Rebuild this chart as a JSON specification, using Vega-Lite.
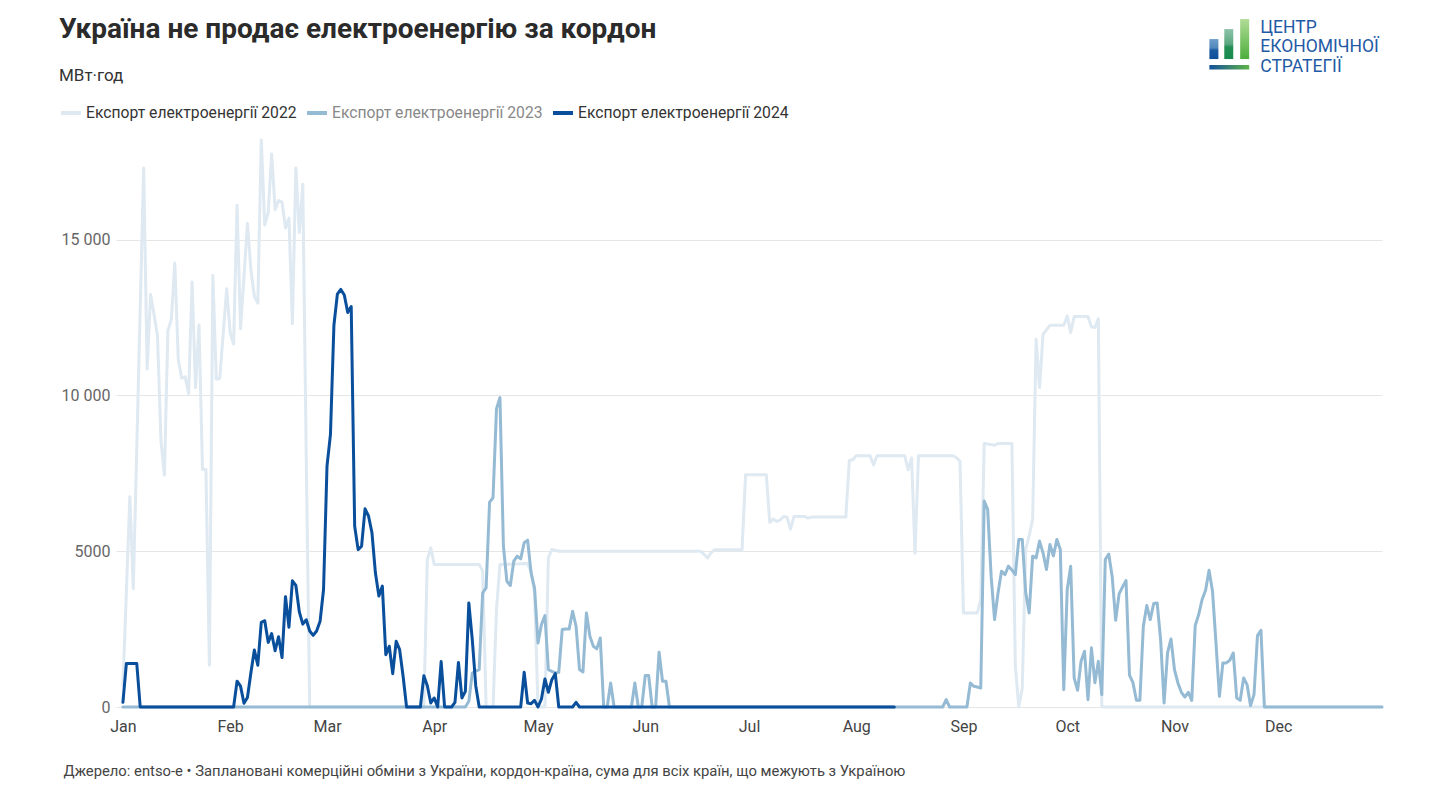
{
"$schema": "https://vega.github.io/schema/vega-lite/v6.json",
"width": 1266,
"height": 564,
"autosize": {"type": "none"},
"padding": {"left": 116, "top": 143, "right": 61, "bottom": 90},
"background": "white",
"config": {"font": "Roboto", "view": {"stroke": null}},
"title": {"text": "Україна не продає електроенергію за кордон", "subtitle": "МВт·год", "anchor": "start", "frame": "bounds", "fontSize": 28, "fontWeight": "bold", "color": "#2b2b2b", "subtitleFontSize": 17, "subtitleColor": "#333333", "subtitlePadding": 24, "offset": -65, "font": "Roboto", "subtitleFont": "Roboto"},
"layer": [
{
"data": {"values": [
{"s":"2022","d":1,"v":700},{"s":"2022","d":2,"v":3700},{"s":"2022","d":3,"v":6750},{"s":"2022","d":4,"v":3800},{"s":"2022","d":5,"v":8300},{"s":"2022","d":6,"v":12800},{"s":"2022","d":7,"v":17300},{"s":"2022","d":8,"v":10850},{"s":"2022","d":9,"v":13240},{"s":"2022","d":10,"v":12600},{"s":"2022","d":11,"v":11900},{"s":"2022","d":12,"v":8540},{"s":"2022","d":13,"v":7440},{"s":"2022","d":14,"v":12080},{"s":"2022","d":15,"v":12440},{"s":"2022","d":16,"v":14250},{"s":"2022","d":17,"v":11160},{"s":"2022","d":18,"v":10550},{"s":"2022","d":19,"v":10600},{"s":"2022","d":20,"v":10065},{"s":"2022","d":21,"v":13640},{"s":"2022","d":22,"v":10250},{"s":"2022","d":23,"v":12260},{"s":"2022","d":24,"v":7625},{"s":"2022","d":25,"v":7625},{"s":"2022","d":26,"v":1340},{"s":"2022","d":27,"v":13850},{"s":"2022","d":28,"v":10520},{"s":"2022","d":29,"v":10550},{"s":"2022","d":30,"v":12000},{"s":"2022","d":31,"v":13420},{"s":"2022","d":32,"v":12020},{"s":"2022","d":33,"v":11650},{"s":"2022","d":34,"v":16100},{"s":"2022","d":35,"v":12140},{"s":"2022","d":36,"v":13800},{"s":"2022","d":37,"v":15520},{"s":"2022","d":38,"v":14030},{"s":"2022","d":39,"v":13180},{"s":"2022","d":40,"v":12960},{"s":"2022","d":41,"v":18200},{"s":"2022","d":42,"v":15470},{"s":"2022","d":43,"v":15860},{"s":"2022","d":44,"v":17750},{"s":"2022","d":45,"v":15960},{"s":"2022","d":46,"v":16250},{"s":"2022","d":47,"v":16200},{"s":"2022","d":48,"v":15370},{"s":"2022","d":49,"v":15690},{"s":"2022","d":50,"v":12300},{"s":"2022","d":51,"v":17300},{"s":"2022","d":52,"v":15230},{"s":"2022","d":53,"v":16780},{"s":"2022","d":54,"v":8000},{"s":"2022","d":55,"v":0},{"s":"2022","d":88,"v":0},{"s":"2022","d":89,"v":4734},{"s":"2022","d":90,"v":5108},{"s":"2022","d":91,"v":4573},{"s":"2022","d":104,"v":4573},{"s":"2022","d":105,"v":4359},{"s":"2022","d":106,"v":0},{"s":"2022","d":108,"v":0},{"s":"2022","d":109,"v":3127},{"s":"2022","d":110,"v":4573},{"s":"2022","d":118,"v":4605},{"s":"2022","d":119,"v":4327},{"s":"2022","d":120,"v":3663},{"s":"2022","d":121,"v":0},{"s":"2022","d":123,"v":0},{"s":"2022","d":124,"v":4787},{"s":"2022","d":125,"v":5055},{"s":"2022","d":127,"v":5000},{"s":"2022","d":168,"v":5000},{"s":"2022","d":169,"v":4900},{"s":"2022","d":170,"v":4780},{"s":"2022","d":171,"v":4950},{"s":"2022","d":172,"v":5044},{"s":"2022","d":180,"v":5044},{"s":"2022","d":181,"v":7454},{"s":"2022","d":187,"v":7454},{"s":"2022","d":188,"v":5923},{"s":"2022","d":189,"v":6030},{"s":"2022","d":190,"v":5955},{"s":"2022","d":191,"v":6000},{"s":"2022","d":192,"v":6115},{"s":"2022","d":193,"v":6094},{"s":"2022","d":194,"v":5708},{"s":"2022","d":195,"v":6115},{"s":"2022","d":198,"v":6115},{"s":"2022","d":199,"v":6062},{"s":"2022","d":200,"v":6094},{"s":"2022","d":210,"v":6094},{"s":"2022","d":211,"v":7915},{"s":"2022","d":212,"v":7936},{"s":"2022","d":213,"v":8065},{"s":"2022","d":217,"v":8065},{"s":"2022","d":218,"v":7775},{"s":"2022","d":219,"v":8065},{"s":"2022","d":227,"v":8065},{"s":"2022","d":228,"v":7615},{"s":"2022","d":229,"v":7990},{"s":"2022","d":230,"v":4937},{"s":"2022","d":231,"v":8065},{"s":"2022","d":241,"v":8065},{"s":"2022","d":242,"v":8000},{"s":"2022","d":243,"v":7890},{"s":"2022","d":244,"v":3020},{"s":"2022","d":248,"v":3020},{"s":"2022","d":249,"v":3450},{"s":"2022","d":250,"v":8460},{"s":"2022","d":253,"v":8400},{"s":"2022","d":254,"v":8460},{"s":"2022","d":258,"v":8460},{"s":"2022","d":259,"v":1300},{"s":"2022","d":260,"v":0},{"s":"2022","d":261,"v":610},{"s":"2022","d":262,"v":5055},{"s":"2022","d":263,"v":5500},{"s":"2022","d":264,"v":6020},{"s":"2022","d":265,"v":11800},{"s":"2022","d":266,"v":10250},{"s":"2022","d":267,"v":11963},{"s":"2022","d":268,"v":12100},{"s":"2022","d":269,"v":12250},{"s":"2022","d":273,"v":12250},{"s":"2022","d":274,"v":12550},{"s":"2022","d":275,"v":12017},{"s":"2022","d":276,"v":12530},{"s":"2022","d":280,"v":12530},{"s":"2022","d":281,"v":12200},{"s":"2022","d":282,"v":12180},{"s":"2022","d":283,"v":12460},{"s":"2022","d":284,"v":0},{"s":"2022","d":365,"v":0},
{"s":"2023","d":1,"v":0},{"s":"2023","d":100,"v":0},{"s":"2023","d":101,"v":182},{"s":"2023","d":102,"v":1092},{"s":"2023","d":103,"v":1150},{"s":"2023","d":104,"v":1200},{"s":"2023","d":105,"v":3660},{"s":"2023","d":106,"v":3820},{"s":"2023","d":107,"v":6575},{"s":"2023","d":108,"v":6715},{"s":"2023","d":109,"v":9575},{"s":"2023","d":110,"v":9928},{"s":"2023","d":111,"v":5160},{"s":"2023","d":112,"v":4037},{"s":"2023","d":113,"v":3900},{"s":"2023","d":114,"v":4680},{"s":"2023","d":115,"v":4840},{"s":"2023","d":116,"v":4755},{"s":"2023","d":117,"v":5270},{"s":"2023","d":118,"v":5355},{"s":"2023","d":119,"v":4305},{"s":"2023","d":120,"v":3820},{"s":"2023","d":121,"v":2056},{"s":"2023","d":122,"v":2645},{"s":"2023","d":123,"v":2935},{"s":"2023","d":124,"v":1200},{"s":"2023","d":125,"v":1146},{"s":"2023","d":126,"v":1092},{"s":"2023","d":127,"v":1114},{"s":"2023","d":128,"v":2485},{"s":"2023","d":129,"v":2506},{"s":"2023","d":130,"v":2500},{"s":"2023","d":131,"v":3074},{"s":"2023","d":132,"v":2592},{"s":"2023","d":133,"v":1200},{"s":"2023","d":134,"v":1125},{"s":"2023","d":135,"v":3020},{"s":"2023","d":136,"v":2270},{"s":"2023","d":137,"v":1950},{"s":"2023","d":138,"v":1864},{"s":"2023","d":139,"v":2217},{"s":"2023","d":140,"v":0},{"s":"2023","d":141,"v":0},{"s":"2023","d":142,"v":771},{"s":"2023","d":143,"v":0},{"s":"2023","d":148,"v":0},{"s":"2023","d":149,"v":771},{"s":"2023","d":150,"v":0},{"s":"2023","d":151,"v":0},{"s":"2023","d":152,"v":1007},{"s":"2023","d":153,"v":1007},{"s":"2023","d":154,"v":0},{"s":"2023","d":155,"v":0},{"s":"2023","d":156,"v":1756},{"s":"2023","d":157,"v":825},{"s":"2023","d":158,"v":825},{"s":"2023","d":159,"v":0},{"s":"2023","d":238,"v":0},{"s":"2023","d":239,"v":236},{"s":"2023","d":240,"v":0},{"s":"2023","d":245,"v":0},{"s":"2023","d":246,"v":771},{"s":"2023","d":247,"v":664},{"s":"2023","d":248,"v":640},{"s":"2023","d":249,"v":610},{"s":"2023","d":250,"v":6608},{"s":"2023","d":251,"v":6340},{"s":"2023","d":252,"v":4200},{"s":"2023","d":253,"v":2806},{"s":"2023","d":254,"v":3663},{"s":"2023","d":255,"v":4360},{"s":"2023","d":256,"v":4250},{"s":"2023","d":257,"v":4520},{"s":"2023","d":258,"v":4400},{"s":"2023","d":259,"v":4250},{"s":"2023","d":260,"v":5376},{"s":"2023","d":261,"v":5376},{"s":"2023","d":262,"v":3663},{"s":"2023","d":263,"v":3020},{"s":"2023","d":264,"v":4840},{"s":"2023","d":265,"v":4787},{"s":"2023","d":266,"v":5323},{"s":"2023","d":267,"v":4948},{"s":"2023","d":268,"v":4413},{"s":"2023","d":269,"v":5216},{"s":"2023","d":270,"v":4850},{"s":"2023","d":271,"v":5376},{"s":"2023","d":272,"v":5055},{"s":"2023","d":273,"v":557},{"s":"2023","d":274,"v":3770},{"s":"2023","d":275,"v":4520},{"s":"2023","d":276,"v":932},{"s":"2023","d":277,"v":535},{"s":"2023","d":278,"v":1467},{"s":"2023","d":279,"v":1789},{"s":"2023","d":280,"v":236},{"s":"2023","d":281,"v":1900},{"s":"2023","d":282,"v":780},{"s":"2023","d":283,"v":1467},{"s":"2023","d":284,"v":396},{"s":"2023","d":285,"v":4734},{"s":"2023","d":286,"v":4910},{"s":"2023","d":287,"v":4180},{"s":"2023","d":288,"v":2785},{"s":"2023","d":289,"v":3630},{"s":"2023","d":290,"v":3856},{"s":"2023","d":291,"v":4060},{"s":"2023","d":292,"v":1020},{"s":"2023","d":293,"v":780},{"s":"2023","d":294,"v":214},{"s":"2023","d":295,"v":214},{"s":"2023","d":296,"v":2592},{"s":"2023","d":297,"v":3256},{"s":"2023","d":298,"v":2806},{"s":"2023","d":299,"v":3320},{"s":"2023","d":300,"v":3341},{"s":"2023","d":301,"v":2163},{"s":"2023","d":302,"v":128},{"s":"2023","d":303,"v":1735},{"s":"2023","d":304,"v":2185},{"s":"2023","d":305,"v":1200},{"s":"2023","d":306,"v":771},{"s":"2023","d":307,"v":471},{"s":"2023","d":308,"v":321},{"s":"2023","d":309,"v":471},{"s":"2023","d":310,"v":214},{"s":"2023","d":311,"v":2613},{"s":"2023","d":312,"v":2967},{"s":"2023","d":313,"v":3449},{"s":"2023","d":314,"v":3749},{"s":"2023","d":315,"v":4391},{"s":"2023","d":316,"v":3716},{"s":"2023","d":317,"v":2056},{"s":"2023","d":318,"v":343},{"s":"2023","d":319,"v":1414},{"s":"2023","d":320,"v":1414},{"s":"2023","d":321,"v":1500},{"s":"2023","d":322,"v":1735},{"s":"2023","d":323,"v":289},{"s":"2023","d":324,"v":214},{"s":"2023","d":325,"v":932},{"s":"2023","d":326,"v":717},{"s":"2023","d":327,"v":43},{"s":"2023","d":328,"v":396},{"s":"2023","d":329,"v":2292},{"s":"2023","d":330,"v":2463},{"s":"2023","d":331,"v":0},{"s":"2023","d":365,"v":0},
{"s":"2024","d":1,"v":150},{"s":"2024","d":2,"v":1400},{"s":"2024","d":3,"v":1400},{"s":"2024","d":4,"v":1400},{"s":"2024","d":5,"v":1400},{"s":"2024","d":6,"v":0},{"s":"2024","d":33,"v":0},{"s":"2024","d":34,"v":830},{"s":"2024","d":35,"v":670},{"s":"2024","d":36,"v":120},{"s":"2024","d":37,"v":305},{"s":"2024","d":38,"v":1100},{"s":"2024","d":39,"v":1830},{"s":"2024","d":40,"v":1340},{"s":"2024","d":41,"v":2720},{"s":"2024","d":42,"v":2770},{"s":"2024","d":43,"v":2074},{"s":"2024","d":44,"v":2355},{"s":"2024","d":45,"v":1805},{"s":"2024","d":46,"v":2257},{"s":"2024","d":47,"v":1586},{"s":"2024","d":48,"v":3540},{"s":"2024","d":49,"v":2560},{"s":"2024","d":50,"v":4050},{"s":"2024","d":51,"v":3900},{"s":"2024","d":52,"v":3050},{"s":"2024","d":53,"v":2660},{"s":"2024","d":54,"v":2800},{"s":"2024","d":55,"v":2440},{"s":"2024","d":56,"v":2300},{"s":"2024","d":57,"v":2440},{"s":"2024","d":58,"v":2750},{"s":"2024","d":59,"v":3770},{"s":"2024","d":60,"v":7730},{"s":"2024","d":61,"v":8750},{"s":"2024","d":62,"v":12250},{"s":"2024","d":63,"v":13250},{"s":"2024","d":64,"v":13400},{"s":"2024","d":65,"v":13220},{"s":"2024","d":66,"v":12660},{"s":"2024","d":67,"v":12850},{"s":"2024","d":68,"v":5800},{"s":"2024","d":69,"v":5050},{"s":"2024","d":70,"v":5160},{"s":"2024","d":71,"v":6360},{"s":"2024","d":72,"v":6130},{"s":"2024","d":73,"v":5590},{"s":"2024","d":74,"v":4300},{"s":"2024","d":75,"v":3560},{"s":"2024","d":76,"v":3880},{"s":"2024","d":77,"v":1680},{"s":"2024","d":78,"v":1950},{"s":"2024","d":79,"v":1070},{"s":"2024","d":80,"v":2110},{"s":"2024","d":81,"v":1840},{"s":"2024","d":82,"v":985},{"s":"2024","d":83,"v":0},{"s":"2024","d":87,"v":0},{"s":"2024","d":88,"v":1000},{"s":"2024","d":89,"v":680},{"s":"2024","d":90,"v":130},{"s":"2024","d":91,"v":290},{"s":"2024","d":92,"v":0},{"s":"2024","d":93,"v":1460},{"s":"2024","d":94,"v":0},{"s":"2024","d":96,"v":0},{"s":"2024","d":97,"v":150},{"s":"2024","d":98,"v":1430},{"s":"2024","d":99,"v":290},{"s":"2024","d":100,"v":500},{"s":"2024","d":101,"v":3340},{"s":"2024","d":102,"v":2163},{"s":"2024","d":103,"v":685},{"s":"2024","d":104,"v":0},{"s":"2024","d":116,"v":0},{"s":"2024","d":117,"v":1114},{"s":"2024","d":118,"v":128},{"s":"2024","d":119,"v":107},{"s":"2024","d":120,"v":214},{"s":"2024","d":121,"v":0},{"s":"2024","d":122,"v":257},{"s":"2024","d":123,"v":900},{"s":"2024","d":124,"v":471},{"s":"2024","d":125,"v":878},{"s":"2024","d":126,"v":1071},{"s":"2024","d":127,"v":0},{"s":"2024","d":131,"v":0},{"s":"2024","d":132,"v":150},{"s":"2024","d":133,"v":0},{"s":"2024","d":224,"v":0}
]},
"mark": {"type": "line", "strokeWidth": 3, "strokeJoin": "round", "strokeCap": "round"},
"encoding": {
"x": {"field": "d", "type": "quantitative", "scale": {"domain": [-1, 365], "nice": false, "zero": false},
 "axis": {"values": [1,32,60,91,121,152,182,213,244,274,305,335], "labelExpr": "timeFormat(datetime(2023, 0, datum.value), '%b')", "grid": false, "ticks": false, "domain": false, "labelFlush": false, "labelFontSize": 16, "labelColor": "#444444", "labelPadding": 11, "title": "Джерело: entso-e • Заплановані комерційні обміни з України, кордон-країна, сума для всіх країн, що межують з Україною", "titleAnchor": "start", "titleAlign": "left", "titleX": -53, "titleY": 68, "titleBaseline": "alphabetic", "titleFontSize": 14.8, "titleFontWeight": "normal", "titleColor": "#444444"}},
"y": {"field": "v", "type": "quantitative", "scale": {"domain": [0, 18100], "nice": false},
 "axis": {"values": [0,5000,10000,15000], "labelExpr": "datum.value >= 10000 ? replace(format(datum.value, ','), ',', ' ') : format(datum.value, 'd')", "grid": true, "gridColor": "#e6e6e6", "ticks": false, "domain": false, "labelFontSize": 16, "labelColor": "#666666", "labelPadding": 6, "title": null, "minExtent": 53, "maxExtent": 53}},
"color": {"field": "s", "type": "nominal", "scale": {"domain": ["2022","2023","2024"], "range": ["#dfe9f2","#95bad4","#0a4f9c"]},
 "legend": {"orient": "none", "legendX": -57, "legendY": -42, "direction": "horizontal", "title": null, "symbolType": "stroke", "symbolSize": 400, "symbolStrokeWidth": 4, "labelFontSize": 15.7, "labelColor": "#333333", "labelOffset": 3, "columnPadding": 2, "labelLimit": 400, "labelExpr": "'Експорт електроенергії ' + datum.label", "encode": {"labels": {"update": {"fill": {"signal": "datum.value == '2023' ? '#888888' : '#333333'"}}}}}}
}
},
{"data": {"values": [{}]}, "mark": {"type": "rect", "color": {"gradient": "linear", "x1": 0, "y1": 0, "x2": 0, "y2": 1, "stops": [{"offset": 0, "color": "#6f9fca"}, {"offset": 0.45, "color": "#4f86ba"}, {"offset": 0.55, "color": "#1a5aa0"}, {"offset": 1, "color": "#0d4f9c"}]}}, "encoding": {"x": {"datum": 315.1}, "x2": {"datum": 317.7}, "y": {"datum": 21436}, "y2": {"datum": 20794}}},
{"data": {"values": [{}]}, "mark": {"type": "rect", "color": {"gradient": "linear", "x1": 0, "y1": 0, "x2": 0, "y2": 1, "stops": [{"offset": 0, "color": "#8fc3aa"}, {"offset": 0.5, "color": "#5aa880"}, {"offset": 0.6, "color": "#238f52"}, {"offset": 1, "color": "#178a4c"}]}}, "encoding": {"x": {"datum": 319.4}, "x2": {"datum": 322.0}, "y": {"datum": 21757}, "y2": {"datum": 20794}}},
{"data": {"values": [{}]}, "mark": {"type": "rect", "color": {"gradient": "linear", "x1": 0, "y1": 0, "x2": 0, "y2": 1, "stops": [{"offset": 0, "color": "#b0dc96"}, {"offset": 1, "color": "#4cae3c"}]}}, "encoding": {"x": {"datum": 324.0}, "x2": {"datum": 326.6}, "y": {"datum": 22078}, "y2": {"datum": 20794}}},
{"data": {"values": [{}]}, "mark": {"type": "rect", "color": {"gradient": "linear", "x1": 0, "y1": 0, "x2": 1, "y2": 0, "stops": [{"offset": 0, "color": "#124f9c"}, {"offset": 1, "color": "#5fb446"}]}}, "encoding": {"x": {"datum": 315.1}, "x2": {"datum": 326.6}, "y": {"datum": 20602}, "y2": {"datum": 20457}}},
{"data": {"values": [{}]}, "mark": {"type": "text", "text": ["ЦЕНТР", "ЕКОНОМІЧНОЇ", "СТРАТЕГІЇ"], "align": "left", "baseline": "alphabetic", "fontSize": 17.5, "lineHeight": 19.5, "color": "#1f5aa5", "font": "Roboto"}, "encoding": {"x": {"datum": 329.8}, "y": {"datum": 21645}}}
]
}
